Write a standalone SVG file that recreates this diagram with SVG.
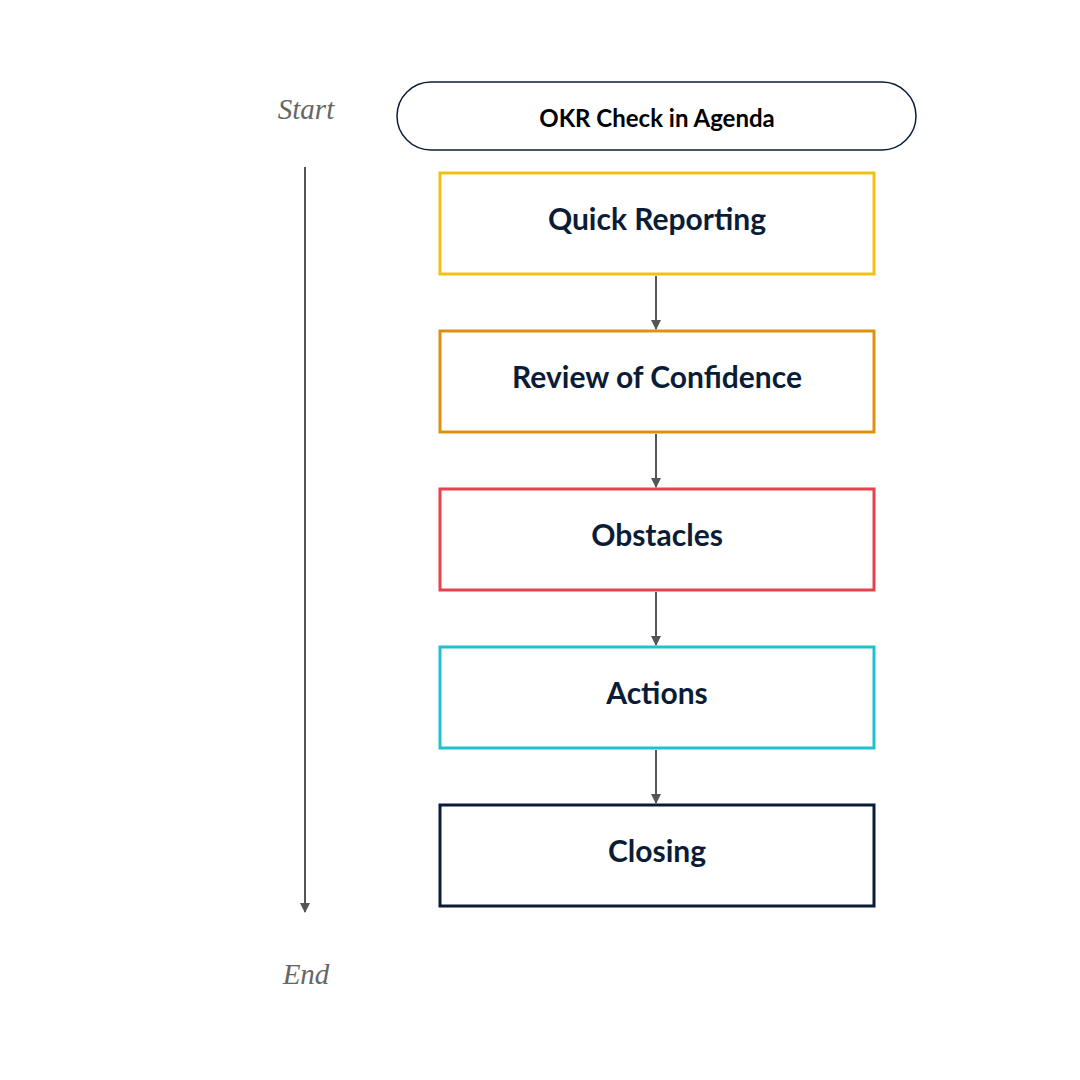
<svg xmlns="http://www.w3.org/2000/svg" width="1080" height="1080" viewBox="0 0 1080 1080">
<style>
.box{fill:#fff;stroke-width:3}
.lbl{font-family:Lato,"Liberation Sans",sans-serif;font-weight:bold;font-size:30px;fill:#0B1D36;text-anchor:middle;dominant-baseline:central}
.side{font-family:"Liberation Serif",serif;font-style:italic;font-size:29px;fill:#666;text-anchor:middle;dominant-baseline:central}
.con{stroke:#555;stroke-width:2;fill:none;marker-end:url(#ah)}
</style>
<defs><marker id="ah" viewBox="0 0 10 10" refX="9" refY="5" markerWidth="5" markerHeight="5" orient="auto"><path d="M0,0L10,5L0,10z" fill="#555"/></marker></defs>
<rect width="1080" height="1080" fill="#fff"/>
<text class="side" x="306" y="109">Start</text>
<text class="side" x="306" y="974">End</text>
<g id="title"><rect x="397" y="82" width="519" height="68" rx="34" fill="#fff" stroke="#0B1D36" stroke-width="1.5"/><text class="lbl" x="657" y="117" style="font-size:24px;fill:#000">OKR Check in Agenda</text></g>
<g id="n1"><rect class="box" x="440" y="173" width="434" height="101" stroke="#F2C014"/><text class="lbl" x="657" y="218">Quick Reporting</text></g>
<g id="n2"><rect class="box" x="440" y="331" width="434" height="101" stroke="#E0900F"/><text class="lbl" x="657" y="376">Review of Confidence</text></g>
<g id="n3"><rect class="box" x="440" y="489" width="434" height="101" stroke="#E8414E"/><text class="lbl" x="657" y="534">Obstacles</text></g>
<g id="n4"><rect class="box" x="440" y="647" width="434" height="101" stroke="#1DC1CF"/><text class="lbl" x="657" y="692">Actions</text></g>
<g id="n5"><rect class="box" x="440" y="805" width="434" height="101" stroke="#0B1D36"/><text class="lbl" x="657" y="850">Closing</text></g>
<g id="connectors">
<line class="con" x1="305" y1="167" x2="305" y2="912"/>
<line class="con" x1="656" y1="276" x2="656" y2="329"/>
<line class="con" x1="656" y1="434" x2="656" y2="487"/>
<line class="con" x1="656" y1="592" x2="656" y2="645"/>
<line class="con" x1="656" y1="750" x2="656" y2="803"/>
</g>
</svg>
